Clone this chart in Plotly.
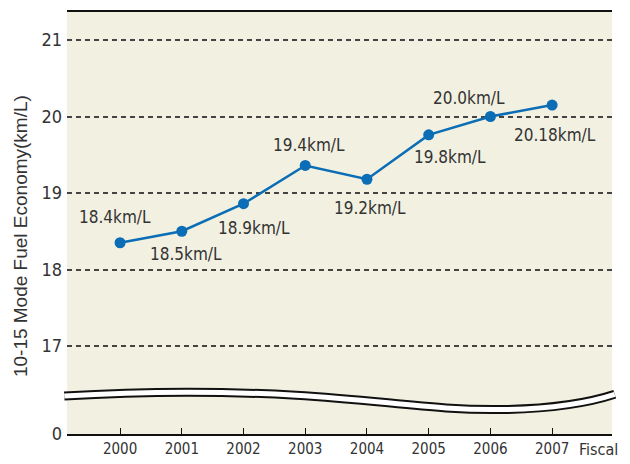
import plotly.graph_objects as go

years = ["2000", "2001", "2002", "2003", "2004", "2005", "2006", "2007"]
economy = [18.35, 18.5, 18.86, 19.36, 19.18, 19.76, 20.0, 20.15]
labels = ["18.4km/L", "18.5km/L", "18.9km/L", "19.4km/L", "19.2km/L", "19.8km/L", "20.0km/L", "20.18km/L"]
# label offsets (px) relative to each point
label_dx = [-5, 4, 10, 4, 3, 21, -21, 3]
label_dy = [26, -23, -24, 20, -29, -22, 19, -30]

y_ticks = [15.85, 17, 18, 19, 20, 21]
y_ticktext = ["0", "17", "18", "19", "20", "21"]
y_title = "10-15 Mode Fuel Economy(km/L)"
x_title = "Fiscal"

FONT = "DejaVu Sans Condensed, sans-serif"
TFONT = "Liberation Sans, Arial, sans-serif"
xs = list(range(len(years)))

fig = go.Figure()
fig.add_trace(go.Scatter(
    x=xs, y=economy, mode="lines+markers",
    line=dict(color="#0a6db5", width=2.5),
    marker=dict(color="#0a6db5", size=11),
    hoverinfo="skip", showlegend=False,
))

for x, y, t, dx, dy in zip(xs, economy, labels, label_dx, label_dy):
    fig.add_annotation(x=x, y=y, text=t, showarrow=False,
                       xshift=dx, yshift=dy,
                       font=dict(family=FONT, size=17, color="#333333"))

fig.add_annotation(xref="paper", yref="paper", x=1, y=0, text=x_title,
                   showarrow=False, xanchor="right", yanchor="top",
                   xshift=8, yshift=-4,
                   font=dict(family=FONT, size=16, color="#333333"))

fig.add_annotation(xref="paper", yref="paper", x=0, y=0.469, text=y_title,
                   showarrow=False, textangle=-90, xanchor="center", yanchor="middle",
                   xshift=-47,
                   font=dict(family=TFONT, size=19, color="#333333"))

brk = ("M -0.005 0.090 C 0.12 0.100, 0.25 0.104, 0.42 0.092 "
       "C 0.58 0.080, 0.68 0.055, 0.80 0.058 C 0.90 0.060, 0.96 0.075, 1.005 0.094")
fig.add_shape(type="path", path=brk, xref="paper", yref="paper",
              line=dict(color="#111111", width=9), layer="above")
fig.add_shape(type="path", path=brk, xref="paper", yref="paper",
              line=dict(color="white", width=5), layer="above")

# page body has an 8px margin, so the figure is sized/offset to compensate
fig.update_layout(
    width=622, height=456,
    margin=dict(l=59, r=18, t=4, b=30, autoexpand=False),
    paper_bgcolor="white",
    plot_bgcolor="#f2f0e1",
    xaxis=dict(
        range=[-0.86, 7.97], tickvals=xs, ticktext=years, automargin=False,
        showgrid=False, zeroline=False,
        showline=True, linecolor="#111111", linewidth=1.5, mirror=True,
        ticks="inside", ticklen=6, tickcolor="#111111", tickwidth=1.2,
        tickfont=dict(family=FONT, size=15, color="#333333"),
    ),
    yaxis=dict(
        range=[15.85, 21.366], tickvals=y_ticks, ticktext=y_ticktext, automargin=False,
        showgrid=True, gridcolor="#444444", gridwidth=1.5, griddash="5px,4px",
        zeroline=False, showline=False, ticks="", ticklabelstandoff=4,
        tickfont=dict(family=FONT, size=18, color="#333333"),
    ),
)

fig.write_html("out.html")
